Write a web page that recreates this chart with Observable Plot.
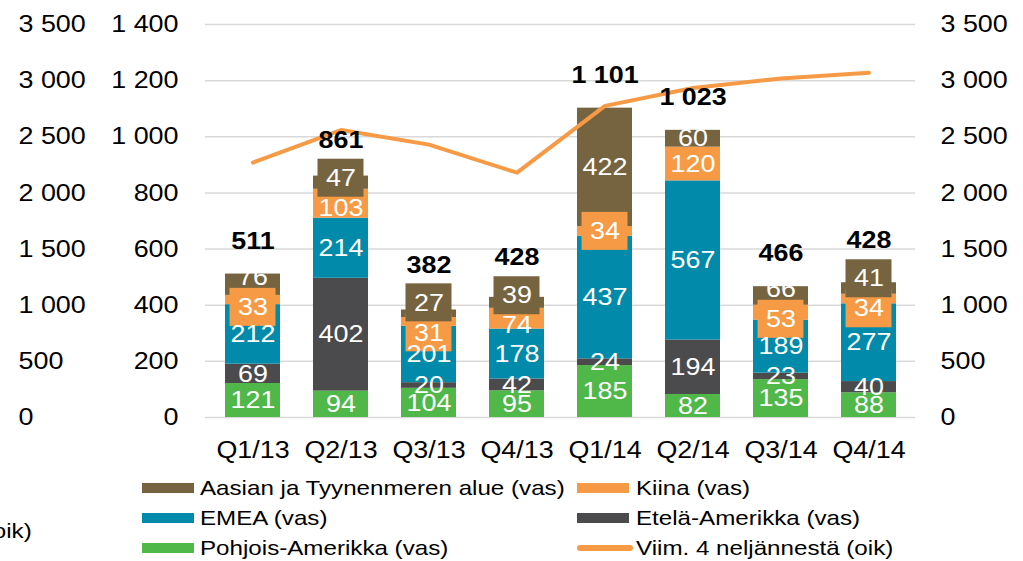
<!DOCTYPE html>
<html><head><meta charset="utf-8">
<script src="https://cdn.jsdelivr.net/npm/d3@7"></script>
<script src="https://cdn.jsdelivr.net/npm/@observablehq/plot@0.6"></script>
<style>
body{margin:0;background:#fff;font-family:"Liberation Sans",Arial,sans-serif;}
#wrap{position:relative;width:1023px;height:561px;overflow:hidden;background:#fff;}
#chart{position:absolute;left:0;top:0;}
.lg{position:absolute;font-size:21px;line-height:24px;height:24px;white-space:nowrap;transform:scaleX(1.15);transform-origin:left center;color:#000;}
.sw{position:absolute;}
</style></head><body><div id="wrap"><div id="chart"></div></div>
<script>
// ---- data ----
const quarters = ["Q1/13","Q2/13","Q3/13","Q4/13","Q1/14","Q2/14","Q3/14","Q4/14"];
const pohjoisAmerikka = [121, 94, 104, 95, 185, 82, 135, 88];
const etelaAmerikka   = [69, 402, 20, 42, 24, 194, 23, 40];
const emea            = [212, 214, 201, 178, 437, 567, 189, 277];
const kiina           = [33, 103, 31, 74, 34, 120, 53, 34];
const aasia           = [76, 47, 27, 39, 422, 60, 66, 41];
const totals          = [511, 861, 382, 428, 1101, 1023, 466, 428];
const viim4           = [2270, 2560, 2430, 2180, 2775, 2935, 3020, 3070];
const seriesNames = ["Pohjois-Amerikka (vas)","Etelä-Amerikka (vas)","EMEA (vas)","Kiina (vas)","Aasian ja Tyynenmeren alue (vas)"];
const lineName = "Viim. 4 neljännestä (oik)";
const leftTicks  = [0, 200, 400, 600, 800, 1000, 1200, 1400];
const rightTicks = [0, 500, 1000, 1500, 2000, 2500, 3000, 3500];

// ---- styles / layout ----
const colors = ["#50B848", "#4B4B4D", "#018AAA", "#F79A45", "#766440"];
const lineColor = "#F79A45";
const W = 1023, H = 470, MT = 24, MB = 53, ML = 205, MR = 108;
const unitsPerPx = 1400 / (H - MB - MT);
const GAP = 30 * unitsPerPx;    // min spacing between top labels
const BOXH = 19 * unitsPerPx;   // half height of label box
const RATIO = 1400 / 3500;

const loc = d3.formatLocale({decimal: ",", thousands: " ", grouping: [3], currency: ["", "€"]});
const fmt = loc.format(",");

const series = [pohjoisAmerikka, etelaAmerikka, emea, kiina, aasia];
const segments = [];
const totalLabels = [];
quarters.forEach((q, qi) => {
  let base = 0;
  const rows = series.map((arr, si) => {
    const v = arr[qi];
    const r = {q, si, name: seriesNames[si], value: v, y1: base, y2: base + v, ly: base + v / 2, boxed: si >= 3 && v < 56};
    base += v;
    return r;
  });
  const k = rows[3], a = rows[4];
  if ((k.boxed || a.boxed) && a.ly - k.ly < GAP) {
    const m = (k.ly + a.ly) / 2; k.ly = m - GAP / 2; a.ly = m + GAP / 2;
  }
  segments.push(...rows);
  const boxed = rows.filter(r => r.boxed).map(r => r.ly + BOXH);
  const boxTop = boxed.length ? Math.max(...boxed) : -Infinity;
  totalLabels.push({q, text: fmt(totals[qi]), y: Math.max(base, boxTop), boxed: boxTop > base});
});
const lineData = quarters.map((q, i) => ({q, v: viim4[i]}));

const plot = Plot.plot({
  width: W, height: H, marginLeft: ML, marginRight: MR, marginTop: MT, marginBottom: MB,
  x: {domain: quarters, paddingInner: 0.38, paddingOuter: 0.19, axis: null},
  y: {domain: [0, 1400], axis: null},
  color: {domain: seriesNames, range: colors},
  style: {fontFamily: "'Liberation Sans', Arial, sans-serif", fontSize: "24px", background: "white", color: "black", overflow: "visible"},
  marks: [
    Plot.ruleY(leftTicks, {stroke: "#d9d9d9", strokeWidth: 1.5}),
    Plot.axisY(leftTicks, {anchor: "left", tickSize: 0, tickPadding: 27, tickFormat: fmt, label: null}),
    Plot.axisY(rightTicks.map(v => v * RATIO), {anchor: "left", tickSize: 0, tickPadding: 187, textAnchor: "start", tickFormat: d => fmt(Math.round(d / RATIO)), label: null}),
    Plot.axisY(rightTicks.map(v => v * RATIO), {anchor: "right", tickSize: 0, tickPadding: 25, tickFormat: d => fmt(Math.round(d / RATIO)), label: null}),
    Plot.axisX({tickSize: 0, tickPadding: 23, label: null}),
    Plot.barY(segments, {x: "q", y1: "y1", y2: "y2", fill: "name"}),
    Plot.barY(segments.filter(d => d.boxed), {x: "q", y1: "ly", y2: "ly", fill: "name", insetTop: -19, insetBottom: -19, insetLeft: 4.5, insetRight: 4.5}),
    Plot.text(segments, {x: "q", y: "ly", text: d => String(d.value), fill: "white"}),
    Plot.line(lineData, {x: "q", y: d => d.v * RATIO, stroke: lineColor, strokeWidth: 4, strokeLinecap: "round", strokeLinejoin: "round"}),
    Plot.text(totalLabels.filter(d => !d.boxed), {x: "q", y: "y", text: "text", dy: -33, fontWeight: "bold", fill: "black"}),
    Plot.text(totalLabels.filter(d => d.boxed), {x: "q", y: "y", text: "text", dy: -19, fontWeight: "bold", fill: "black"})
  ]
});
plot.querySelectorAll("text").forEach(t => {
  const tr = t.getAttribute("transform");
  if (tr && tr.includes("translate")) t.setAttribute("transform", tr + " scale(1.12,1)");
});
document.getElementById("chart").appendChild(plot);

// ---- legend ----
const wrap = document.getElementById("wrap");
const legendItems = [
  {name: seriesNames[4], color: colors[4], type: "bar"},
  {name: seriesNames[3], color: colors[3], type: "bar"},
  {name: seriesNames[2], color: colors[2], type: "bar"},
  {name: seriesNames[1], color: colors[1], type: "bar"},
  {name: seriesNames[0], color: colors[0], type: "bar"},
  {name: lineName, color: lineColor, type: "line"}
];
const rowsY = [488, 518, 548];
const colSw = [142, 577], colTx = [200, 636];
legendItems.forEach((it, i) => {
  const r = Math.floor(i / 2), c = i % 2;
  const sw = document.createElement("div");
  sw.className = "sw";
  if (it.type === "bar") {
    sw.style.cssText = `left:${colSw[c]}px;top:${rowsY[r]-5}px;width:52px;height:10px;background:${it.color}`;
  } else {
    sw.style.cssText = `left:${colSw[c]}px;top:${rowsY[r]-3}px;width:56px;height:6px;border-radius:3px;background:${it.color}`;
  }
  wrap.appendChild(sw);
  const tx = document.createElement("div");
  tx.className = "lg";
  tx.style.left = colTx[c] + "px";
  tx.style.top = (rowsY[r] - 12) + "px";
  tx.textContent = it.name;
  wrap.appendChild(tx);
});
// clipped legend fragment at left edge
const frag = document.createElement("div");
frag.className = "lg";
frag.style.cssText = "left:auto;right:" + (1023 - 32) + "px;top:" + (531 - 12) + "px;transform-origin:right center;";
frag.textContent = lineName;
wrap.appendChild(frag);
</script></body></html>
